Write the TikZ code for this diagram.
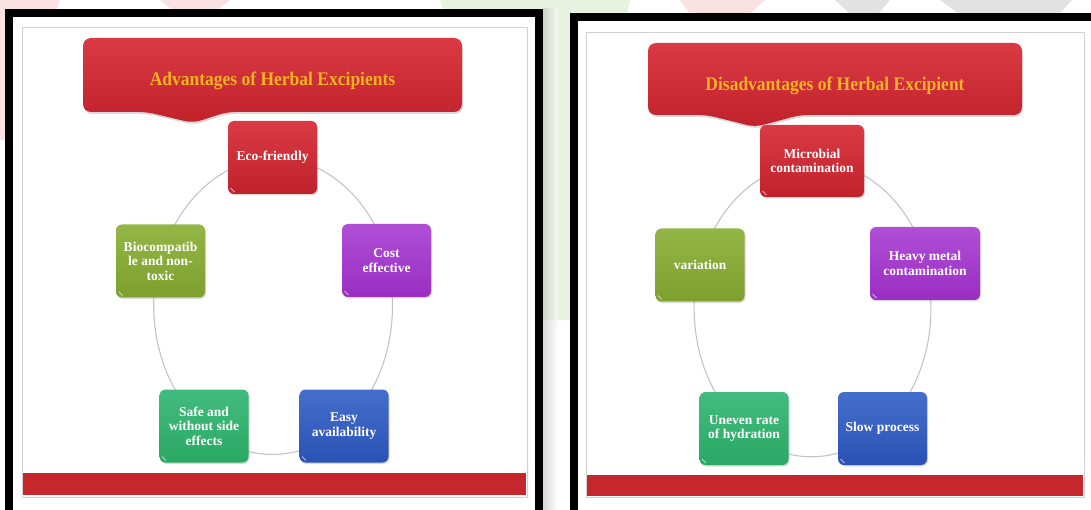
\documentclass[tikz,border=0pt]{standalone}
\usepackage{fontspec}
\setmainfont{Liberation Serif}
\usetikzlibrary{shadows}
\definecolor{redT}{HTML}{D93A43}
\definecolor{redB}{HTML}{C0212A}
\definecolor{purT}{HTML}{B04FD6}
\definecolor{purB}{HTML}{9A2DC2}
\definecolor{oliT}{HTML}{93B646}
\definecolor{oliB}{HTML}{7C9F2E}
\definecolor{grnT}{HTML}{42BC7E}
\definecolor{grnB}{HTML}{2AA864}
\definecolor{bluT}{HTML}{446ECC}
\definecolor{bluB}{HTML}{2A52B4}
\definecolor{ttlC}{HTML}{F4B320}
\definecolor{barC}{HTML}{C5272D}
\definecolor{wmPink}{HTML}{FBE2E2}
\definecolor{wmGreen}{HTML}{E8F3DF}
\definecolor{wmGray}{HTML}{E2E2E2}
\definecolor{cycC}{HTML}{C4C4C4}
\newcommand{\bxfont}{\bfseries\fontsize{13.5}{14.5}\selectfont}
\newcommand{\ttlfont}{\bfseries\fontsize{17.5}{20}\selectfont}
\pgfdeclarelayer{back}
\pgfdeclarelayer{mid}
\pgfsetlayers{back,mid,main}
\begin{document}
\begin{tikzpicture}[x=1pt,y=-1pt,
  box/.style={rounded corners=6pt, minimum width=89pt, minimum height=73pt, inner sep=2pt,
    align=center, text=white, font=\bxfont,
    drop shadow={shadow xshift=1pt, shadow yshift=-1.5pt, opacity=0.3},
    path picture={\draw[white, opacity=0.6, line width=1pt]
      ([xshift=2.5pt,yshift=6pt]path picture bounding box.south west) -- ++(4pt,-4pt);}},
  redbox/.style={box, top color=redT, bottom color=redB},
  purbox/.style={box, top color=purT, bottom color=purB},
  olibox/.style={box, top color=oliT, bottom color=oliB},
  grnbox/.style={box, top color=grnT, bottom color=grnB},
  blubox/.style={box, top color=bluT, bottom color=bluB},
  banner/.style={rounded corners=8pt, top color=redT, bottom color=redB,
    drop shadow={shadow xshift=1pt, shadow yshift=-2pt, opacity=0.3}},
  ttl/.style={text=ttlC, font=\ttlfont, inner sep=0pt},
  frame/.style={line width=8pt, draw=black},
  slide/.style={draw=black!18, line width=0.8pt},
  cyc/.style={draw=cycC, line width=1.1pt},
  lell/.style={x radius=122pt, y radius=149pt},
  rell/.style={x radius=121pt, y radius=148pt},
  bar/.style={fill=barC}
]
\useasboundingbox (0,0) rectangle (1091,510);
\begin{pgfonlayer}{back}
\fill[white] (0,0) rectangle (1091,510);
% faint watermark fragments
\fill[wmPink] (0,0) -- (60,0) -- (12,140) -- (0,140) -- cycle;
\fill[wmPink] (160,0) -- (230,0) -- (215,12) -- (175,12) -- cycle;
\fill[wmGreen] (440,0) -- (630,0) -- (572,320) -- (543,320) -- cycle;
\fill[wmPink] (680,0) -- (765,0) -- (750,14) -- (690,14) -- cycle;
\fill[wmGray] (835,0) -- (890,0) -- (878,14) -- (850,14) -- cycle;
\fill[wmGray] (940,0) -- (1072,0) -- (1058,16) -- (962,16) -- cycle;
\shade[left color=black!25, right color=white, opacity=0.6] (543,9) rectangle (558,510);
% panels
\fill[white] (9,13) rectangle (539,510);
\fill[white] (574,17) rectangle (1095,510);
\draw[slide] (22,27) rectangle (527,497);
\draw[slide] (586,32) rectangle (1084,497);
\fill[bar] (23,473) rectangle (526,495);
\fill[bar] (587,475) rectangle (1083,496);
\draw[frame] (9,13) rectangle (539,514);
\draw[frame] (574,17) rectangle (1095,514);
\end{pgfonlayer}

% ---------- left panel ----------
\path[banner] (83,38) -- (462,38) -- (462,112) -- (227,112) -- (193,123) -- (147,112) -- (83,112) -- cycle;
\node[ttl] (l-title) at (272.5,81) {\scalebox{1}[1.1]{Advantages of Herbal Excipients}};

\node[redbox] (l-eco)  at (272.5,157.5) {Eco-friendly};
\node[purbox] (l-cost) at (386.5,260.5) {Cost\\effective};
\node[blubox] (l-easy) at (344,426) {Easy\\availability};
\node[grnbox] (l-safe) at (204,426) {Safe and\\without side\\effects};
\node[olibox] (l-bio)  at (160.5,261) {Biocompatib\\le and non-\\toxic};

% ---------- right panel ----------
\path[banner] (648,43) -- (1022,43) -- (1022,115) -- (800,115) -- (755,127) -- (707,115) -- (648,115) -- cycle;
\node[ttl] (r-title) at (835,86) {\scalebox{1}[1.1]{Disadvantages of Herbal Excipient}};

\node[redbox, minimum width=104pt, minimum height=72pt] (r-micro) at (812,161) {Microbial\\contamination};
\node[purbox, minimum width=110pt] (r-heavy) at (925,263.5) {Heavy metal\\contamination};
\node[blubox] (r-slow)  at (882.5,428.5) {Slow process};
\node[grnbox] (r-uneven) at (744,428.5) {Uneven rate\\of hydration};
\node[olibox] (r-var)   at (700,265) {variation};

% cycle connectors (behind boxes)
\begin{pgfonlayer}{mid}
\draw[cyc] (l-eco.center)  arc[start angle=90,   end angle=18,   lell];
\draw[cyc] (l-cost.center) arc[start angle=18,   end angle=-54,  lell];
\draw[cyc] (l-easy.center) arc[start angle=-54,  end angle=-126, lell];
\draw[cyc] (l-safe.center) arc[start angle=-126, end angle=-198, lell];
\draw[cyc] (l-bio.center)  arc[start angle=162,  end angle=90,   lell];
\draw[cyc] (r-micro.center)  arc[start angle=90,   end angle=18,   rell];
\draw[cyc] (r-heavy.center)  arc[start angle=18,   end angle=-54,  rell];
\draw[cyc] (r-slow.center)   arc[start angle=-54,  end angle=-126, rell];
\draw[cyc] (r-uneven.center) arc[start angle=-126, end angle=-198, rell];
\draw[cyc] (r-var.center)    arc[start angle=162,  end angle=90,   rell];
\end{pgfonlayer}
\end{tikzpicture}
\end{document}
